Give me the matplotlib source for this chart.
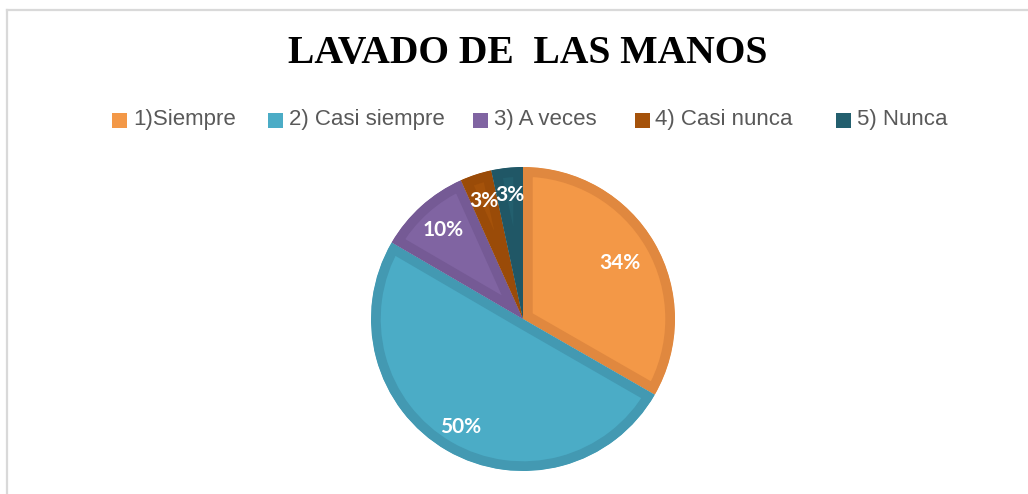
import matplotlib
matplotlib.use("Agg")
import matplotlib.pyplot as plt
from matplotlib.patches import Rectangle
import numpy as np

# datos
categorias = ["1)Siempre", "2) Casi siempre", "3) A veces", "4) Casi nunca", "5) Nunca"]
valores = [33.3, 50.1, 9.9, 3.35, 3.35]
etiquetas = ["34%", "50%", "10%", "3%", "3%"]

colores = ["#F39847", "#4BACC6", "#8064A2", "#A5520A", "#235F6E"]
bordes = ["#E0883F", "#4399B2", "#755A95", "#9A4B08", "#205766"]

W, H = 1028, 494
fig = plt.figure(figsize=(W / 100, H / 100), dpi=100)

# marco gris a la izquierda y arriba
fig.add_artist(plt.Line2D([6.5 / W, 6.5 / W], [0, 1 - 10.5 / H], color="#D9D9D9", lw=1.6))
fig.add_artist(plt.Line2D([6.5 / W, 1], [1 - 10.5 / H, 1 - 10.5 / H], color="#D9D9D9", lw=1.6))

fig.text(528 / W, 1 - 54 / H, "LAVADO DE  LAS MANOS", ha="center", va="center",
         fontsize=28.5, fontweight="bold", family="Liberation Serif", color="black")

# leyenda
marker_x = [112, 268, 473, 635, 836]
text_x = [133, 289, 494, 655, 857]
ley_y = 120
for cat, col, mx, tx in zip(categorias, colores, marker_x, text_x):
    fig.add_artist(Rectangle((mx / W, 1 - (ley_y + 7.5) / H), 15 / W, 15 / H,
                             transform=fig.transFigure, facecolor=col, edgecolor="none"))
    fig.text(tx / W, 1 - ley_y / H, cat, ha="left", va="center", fontsize=16,
             family="Liberation Sans", color="#595959")

# pastel
cx, cy, r = 523, 319, 152
ax = fig.add_axes([(cx - r) / W, (H - cy - r) / H, 2 * r / W, 2 * r / H])
wedges, _ = ax.pie(valores, colors=colores, startangle=90, counterclock=False,
                   radius=1.0, wedgeprops=dict(linewidth=0))
for w, b in zip(wedges, bordes):
    w.set_edgecolor(b)
    w.set_linewidth(14)
    w.set_clip_on(True)
    w.set_clip_path(w)

dist = [0.74, 0.82, 0.79, 0.82, 0.82]
total = sum(valores)
acum = 0
for v, lab, d in zip(valores, etiquetas, dist):
    ang = np.deg2rad(90 - 360 * (acum + v / 2) / total)
    acum += v
    ax.text(d * np.cos(ang), d * np.sin(ang), lab, ha="center", va="center",
            fontsize=15, fontweight="bold", family=["Lato", "DejaVu Sans"], color="white")

ax.set_xlim(-1, 1)
ax.set_ylim(-1, 1)
ax.set_aspect("equal")
ax.axis("off")

fig.savefig("out.png", dpi=100, facecolor="white")
